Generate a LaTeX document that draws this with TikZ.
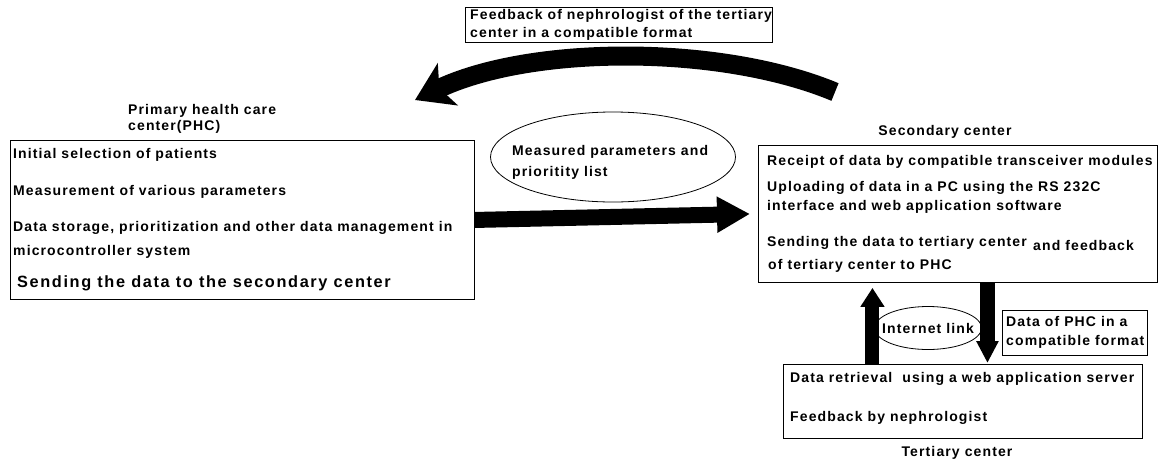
\documentclass[tikz,border=0pt]{standalone}
\usepackage{fontspec}
\setmainfont[LetterSpace=8]{Liberation Sans}
\usetikzlibrary{arrows.meta,shapes.geometric}
\tikzset{
  txt/.style={font=\bfseries\fontsize{14}{17}\selectfont, inner sep=0pt, anchor=west, align=left},
  bigtxt/.style={font=\bfseries\fontsize{16.3}{19}\selectfont\addfontfeatures{LetterSpace=10}, inner sep=0pt, anchor=west},
  box/.style={draw, line width=0.9pt, inner sep=0pt, anchor=north west},
  oval/.style={draw, ellipse, line width=0.8pt, inner sep=0pt},
  fat/.style={line width=#1},
}
\begin{document}
\begin{tikzpicture}[x=1pt,y=-1pt]
\useasboundingbox (0,0) rectangle (1159,464);
% boxes
\node[box, minimum width=464pt, minimum height=159pt] (phc) at (10,140) {};
\node[box, minimum width=399pt, minimum height=137pt] (sec) at (758,145) {};
\node[box, minimum width=359pt, minimum height=74pt] (ter) at (783,364) {};
\node[box, minimum width=307pt, minimum height=35pt] (fb) at (465,7) {};
\node[box, minimum width=145pt, minimum height=45pt] (dp) at (1002,310) {};
\node[oval, minimum width=245pt, minimum height=90pt] (meas) at (613,157) {};
\node[oval, minimum width=107pt, minimum height=43pt] (inet) at (928,328) {};
% titles
\node[txt, font=\bfseries\fontsize{14}{16}\selectfont] (phct) at (128,119) {Primary health care\\center(PHC)};
\node[txt, anchor=center] (sect) at (945,132) {Secondary center};
\node[txt, anchor=center] (tert) at (957,453) {Tertiary center};
% PHC text
\node[txt] (p1) at (13,155) {Initial selection of patients};
\node[txt] (p2) at (13,192) {Measurement of various parameters};
\node[txt] (p3) at (13,228) {Data storage, prioritization and other data management in};
\node[txt] (p4) at (13,252) {microcontroller system};
\node[bigtxt] (p5) at (17,283) {Sending the data to the secondary center};
% secondary text
\node[txt] (s1) at (767,162) {Receipt of data by compatible transceiver modules};
\node[txt] (s2) at (767,188) {Uploading of data in a PC using the RS 232C};
\node[txt] (s3) at (767,207) {interface and web application software};
\node[txt] (s4) at (767,243) {Sending the data to tertiary center};
\node[txt] (s5) at (1033,245) {and feedback};
\node[txt] (s6) at (768,266) {of tertiary center to PHC};
% tertiary text
\node[txt] (t1) at (790,379) {Data retrieval\ \ using a web application server};
\node[txt] (t2) at (790,418) {Feedback by nephrologist};
% labels
\node[txt, font=\bfseries\fontsize{14}{18}\selectfont] (fbt) at (470,25) {Feedback of nephrologist of the tertiary\\center in a compatible format};
\node[txt, font=\bfseries\fontsize{14}{19}\selectfont] (dpt) at (1006,332) {Data of PHC in a\\compatible format};
\node[txt, font=\bfseries\fontsize{14}{21}\selectfont] (meast) at (512,162) {Measured parameters and\\prioritity list};
\node[txt, anchor=center] (inett) at (inet) {Internet link};
% arrows
\draw[fat=16pt, -{Triangle[length=33pt,width=34pt]}] (phc.east) -- ([xshift=-8pt]sec.west);
\draw[fat=14pt, -{Triangle[length=19pt,width=23pt]}] ([xshift=-90.5pt]ter.north) -- ([xshift=-85.5pt,yshift=-5pt]sec.south);
\draw[fat=15pt, -{Triangle[length=22pt,width=21pt]}] ([xshift=29.5pt]sec.south) -- ([xshift=24.5pt,yshift=1pt]ter.north);
\coordinate (cs) at (835,92);
\coordinate (ce) at (415,100);
\draw[fat=19pt, -{Stealth[length=36pt,width=46pt,inset=9pt]}] (cs) .. controls (720,44) and (530,45) .. (ce);
\end{tikzpicture}
\end{document}
